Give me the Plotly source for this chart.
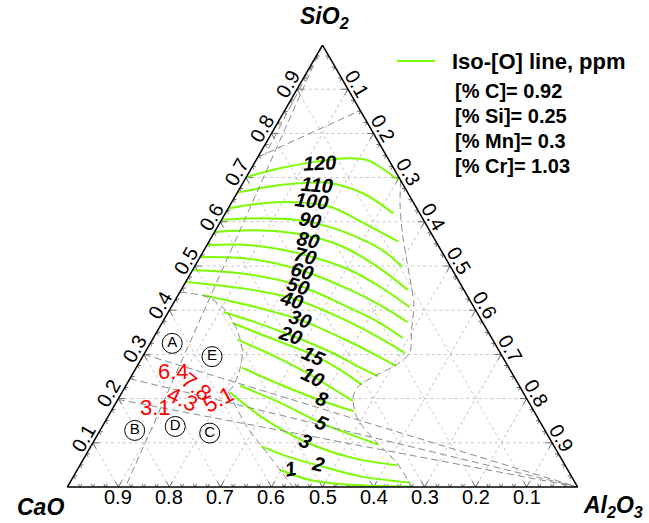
import math
import plotly.graph_objects as go

# ---- CaO-SiO2-Al2O3 slag system; compositions in wt.% (SiO2, Al2O3), CaO is the balance ----

iso_levels = [120, 110, 100, 90, 80, 70, 60, 50, 40, 30, 20, 15, 10, 8, 5, 3, 2, 1]

iso_sio2 = [
    [70.1, 72.1, 73.5, 74.4, 74.0, 72.4, 69.5],
    [66.6, 68.3, 68.9, 68.8, 66.4, 61.9],
    [63.0, 64.2, 64.4, 63.4, 59.7, 55.5],
    [60.4, 60.8, 60.4, 58.8, 55.9, 53.2, 49.8],
    [57.7, 58.1, 57.2, 54.7, 50.2, 44.6],
    [54.7, 54.7, 52.5, 49.1, 45.3, 40.7],
    [52.0, 51.6, 49.1, 44.6, 41.2, 37.3],
    [49.1, 48.2, 45.7, 40.5, 37.1, 33.7],
    [46.4, 45.0, 42.8, 38.3, 33.7, 30.3],
    [43.4, 41.0, 37.8, 32.8, 29.4, 27.4],
    [39.6, 37.3, 34.4, 30.6, 27.0, 25.1],
    [37.1, 33.7, 29.9, 26.5, 23.1],
    [33.3, 29.5, 25.0, 22.0, 19.5],
    [27.0, 23.2, 19.5, 17.1],
    [22.9, 19.1, 14.4, 11.9, 9.6],
    [21.4, 15.3, 10.3, 6.7, 4.9],
    [9.2, 6.7, 4.9, 2.4, 1.0],
    [3.9, 1.6, 0.5, 0.1],
]

iso_al2o3 = [
    [0.0, 5.6, 11.4, 17.6, 21.7, 25.1, 30.0],
    [0.0, 7.5, 13.7, 17.1, 24.8, 32.9],
    [0.0, 6.4, 12.8, 19.8, 28.2, 37.1],
    [0.0, 8.0, 14.8, 22.1, 30.0, 35.6, 40.7],
    [0.0, 8.1, 17.0, 26.0, 35.2, 44.4],
    [0.0, 8.5, 20.3, 30.8, 38.6, 46.7],
    [0.0, 10.0, 21.1, 33.1, 40.6, 48.0],
    [0.0, 10.8, 22.2, 35.1, 42.7, 48.9],
    [0.0, 11.4, 22.3, 34.3, 44.4, 51.0],
    [4.9, 15.4, 26.7, 39.0, 46.5, 50.7],
    [10.8, 18.1, 26.4, 36.2, 43.9, 48.3],
    [13.8, 22.9, 33.2, 40.2, 46.2],
    [16.8, 26.0, 35.7, 41.4, 46.2],
    [20.7, 30.1, 40.1, 47.6],
    [22.4, 32.1, 42.7, 49.5, 56.1],
    [21.2, 31.1, 41.4, 52.1, 62.2],
    [33.4, 40.3, 46.7, 56.2, 66.6],
    [39.7, 46.7, 55.1, 67.3],
]

# contour label anchor points (SiO2, Al2O3) and text rotation
label_sio2 = [73.3, 68.4, 64.6, 60.5, 55.9, 52.2, 48.8, 45.4, 42.4, 37.9, 34.5, 29.6, 25.0, 19.8, 14.5, 10.4, 5.1, 4.0]
label_al2o3 = [12.8, 14.7, 15.6, 17.3, 19.3, 20.5, 21.6, 22.6, 22.8, 26.7, 26.4, 33.4, 35.7, 40.0, 42.6, 41.4, 46.6, 41.7]
label_angle = [-3, 4, 7, 10, 12, 14, 16, 16, 16, 18, 18, 24, 26, 20, 24, 24, 14, -10]

# liquid region boundaries
right_bound_sio2 = [69.4, 63.8, 57.0, 51.4, 45.7, 41.6, 35.5, 30.3, 27.2, 25.4, 22.7, 20.4, 16.8, 14.5, 10.0, 5.5, 0.0]
right_bound_al2o3 = [30.6, 33.3, 37.2, 40.8, 44.5, 47.1, 49.7, 51.9, 50.2, 48.0, 45.6, 45.8, 48.0, 50.1, 55.7, 61.8, 67.5]
left_bound_sio2 = [44.1, 43.0, 40.1, 35.5, 31.0, 27.0, 23.1, 21.5]
left_bound_al2o3 = [0.0, 5.9, 10.9, 15.5, 18.8, 20.4, 21.1, 20.8]
lower_bound_sio2 = [21.5, 13.6, 7.7, 0.0]
lower_bound_al2o3 = [20.8, 28.4, 35.3, 44.2]
top_bound_sio2 = [74.6, 85.2]
top_bound_al2o3 = [0.0, 14.8]

# straight construction lines from the SiO2 apex
apex_lines_sio2 = [[100.0, 75.1], [100.0, 0.0]]
apex_lines_al2o3 = [[0.0, 1.2], [0.0, 11.4]]

# constant CaO/SiO2 lines running to the Al2O3 corner (SiO2 on the CaO-SiO2 side)
basicity_sio2 = [30.0, 24.5, 19.8]

# slag samples
sample_names = ["A", "E", "B", "D", "C"]
sample_sio2 = [32.5, 29.5, 12.8, 13.7, 12.2]
sample_al2o3 = [4.3, 13.6, 6.8, 14.3, 21.8]

# measured values
meas_text = ["6.4", "7.8", "4.3", "5.1", "3.1"]
meas_sio2 = [26.1, 22.7, 19.8, 19.8, 18.0]
meas_al2o3 = [7.7, 13.9, 12.8, 19.7, 8.4]
meas_angle = [0, 38, 25, -28, 0]

steel = ["[% C]= 0.92", "[% Si]= 0.25", "[% Mn]= 0.3", "[% Cr]= 1.03"]

tick_vals = [10, 20, 30, 40, 50, 60, 70, 80, 90]
minor_step = 2.5

GREEN = "#7CFC00"
DASH = "#8a8a8a"
FONT = "Liberation Sans, Arial, sans-serif"

W, H = 511.0, 442.5          # triangle size in px (fills the plot area)


def balance(s, a):
    return [round(100 - x - y, 3) for x, y in zip(s, a)]


def to_paper(s, a, dx=0.0, dy=0.0):
    # paper position of a composition, with an optional pixel offset (dy>0 = up)
    return (a + s / 2) / 100 + dx / W, s / 100 + dy / H


fig = go.Figure()

# edge ticks: short strokes along the two grid directions meeting each edge point
tk_a, tk_b, tk_c = [], [], []
steps = int(100 / minor_step)
for k in range(1, steps):
    v = k * minor_step
    L = 1.3 if abs(v % 10) < 1e-9 else 0.7
    for (a0, b0, c0), dirs in [
        ((0, 100 - v, v), [(L, -L, 0), (L, 0, -L)]),          # base
        ((v, 100 - v, 0), [(0, -L, L), (-L, 0, L)]),          # left side
        ((100 - v, 0, v), [(0, L, -L), (-L, L, 0)]),          # right side
    ]:
        for da, db, dc in dirs:
            tk_a += [a0, a0 + da, None]
            tk_b += [b0, b0 + db, None]
            tk_c += [c0, c0 + dc, None]
fig.add_trace(go.Scatterternary(a=tk_a, b=tk_b, c=tk_c, mode="lines",
                                line=dict(color="#6e6e6e", width=1), showlegend=False,
                                hoverinfo="skip"))

for lvl, s, a in zip(iso_levels, iso_sio2, iso_al2o3):
    fig.add_trace(go.Scatterternary(
        a=s, b=balance(s, a), c=a, mode="lines",
        line=dict(color=GREEN, width=2, shape="spline", smoothing=1.0), name=f"{lvl} ppm",
        showlegend=False, hoverinfo="skip"))

dashed = dict(color=DASH, width=1, dash="7px,4px")
curved = dict(color=DASH, width=1, dash="7px,4px", shape="spline", smoothing=0.8)
for s, a in [(right_bound_sio2, right_bound_al2o3),
             (left_bound_sio2, left_bound_al2o3),
             (lower_bound_sio2, lower_bound_al2o3)]:
    fig.add_trace(go.Scatterternary(a=s, b=balance(s, a), c=a, mode="lines",
                                    line=curved, showlegend=False, hoverinfo="skip"))
for s, a in [(top_bound_sio2, top_bound_al2o3)] + list(zip(apex_lines_sio2, apex_lines_al2o3)):
    fig.add_trace(go.Scatterternary(a=s, b=balance(s, a), c=a, mode="lines",
                                    line=dashed, showlegend=False, hoverinfo="skip"))

for s in basicity_sio2:
    fig.add_trace(go.Scatterternary(a=[s, 0], b=[100 - s, 0], c=[0, 100], mode="lines",
                                    line=dashed, showlegend=False, hoverinfo="skip"))

fig.add_trace(go.Scatterternary(
    a=sample_sio2, b=balance(sample_sio2, sample_al2o3), c=sample_al2o3,
    mode="markers+text", text=sample_names, textposition="middle center",
    textfont=dict(family=FONT, size=15, color="black"),
    marker=dict(symbol="circle-open", size=20, color="black", line=dict(width=1)),
    showlegend=False, hoverinfo="skip"))

annotations = []


def note(x, y, text, size, color="black", angle=0, xanchor="center"):
    annotations.append(dict(x=x, y=y, xref="paper", yref="paper", text=text, showarrow=False,
                            xanchor=xanchor, yanchor="middle", textangle=angle,
                            font=dict(family=FONT, size=size, color=color)))


for lvl, s, a, ang in zip(iso_levels, label_sio2, label_al2o3, label_angle):
    x, y = to_paper(s, a)
    note(x, y, f"<b><i>{lvl}</i></b>", 20, angle=ang)

for t, s, a, ang in zip(meas_text, meas_sio2, meas_al2o3, meas_angle):
    x, y = to_paper(s, a)
    note(x, y, t, 22, color="red", angle=ang)

# tick labels, set 10.5 px outside each edge
n = 10.5
c30, s30 = math.cos(math.radians(30)), 0.5
for v in tick_vals:
    lab = f"{v / 100:.1f}"
    x, y = to_paper(v, 0, -n * c30, n * s30)               # SiO2 along the left side
    note(x, y, lab, 20, angle=-60)
    x, y = to_paper(0, 100 - v, 0, -n)                      # CaO along the base
    note(x, y, lab, 20)
    x, y = to_paper(100 - v, v, n * c30, n * s30)           # Al2O3 along the right side
    note(x, y, lab, 20, angle=60)

# axis titles
note(0.503, 1.062, "<b><i>SiO<sub>2</sub></i></b>", 23)
note(-0.052, -0.046, "<b><i>CaO</i></b>", 23)
note(1.068, -0.044, "<b><i>Al<sub>2</sub>O<sub>3</sub></i></b>", 23)

# key
note(0.7495, 0.9638, "<b>Iso-[O] line, ppm</b>", 22, xanchor="left")
for i, t in enumerate(steel):
    note(0.7554, 0.8960 - i * 0.0565, f"<b>{t}</b>", 20, xanchor="left")


def axis():
    return dict(min=0, linecolor="black", linewidth=1.5, showgrid=True, gridcolor="#c8c8c8",
                gridwidth=1, griddash="dot", tickmode="array", tickvals=tick_vals,
                ticks="", showticklabels=False, title=dict(text=""))


fig.update_layout(
    width=649, height=523,
    margin=dict(l=67, r=71, t=45, b=35.5),
    paper_bgcolor="white",
    ternary=dict(sum=100, bgcolor="white", aaxis=axis(), baxis=axis(), caxis=axis()),
    annotations=annotations,
    shapes=[dict(type="line", xref="paper", yref="paper", x0=0.6458, x1=0.7202,
                 y0=0.9638, y1=0.9638, line=dict(color=GREEN, width=2))],
)

fig.write_html("out.html")
